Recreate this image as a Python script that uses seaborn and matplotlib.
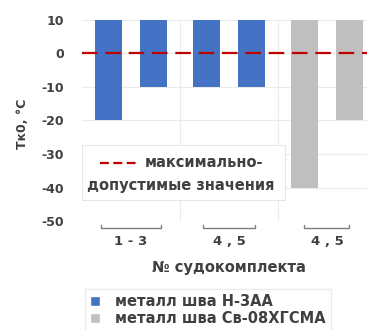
import pandas as pd
import numpy as np
import seaborn as sns
import matplotlib.pyplot as plt
from matplotlib.patches import Patch, Rectangle
import matplotlib.transforms as mtransforms

# --- Dati ---
group_labels = ["1 - 3", "4 , 5", "4 , 5"]
group_idx = [0, 0, 1, 1, 2, 2]
sub_idx = [0, 1, 0, 1, 0, 1]
values = [-20, -10, -10, -10, -40, -20]
material = ["Н-3АА", "Н-3АА", "Н-3АА", "Н-3АА", "Св-08ХГСМА", "Св-08ХГСМА"]
legend_labels = ["металл шва Н-3АА", "металл шва Св-08ХГСМА"]
limit_value = 0
y_top = 10

colors = {"Н-3АА": "#4472C4", "Св-08ХГСМА": "#BFBFBF"}
txt = "#404040"

sns.set_style("white")
plt.rcParams['font.family'] = ['DejaVu Sans']
plt.rcParams['font.weight'] = 'bold'
plt.rcParams['axes.unicode_minus'] = False

df = pd.DataFrame({"group": group_idx, "sub": sub_idx, "value": values, "material": material})
df["height"] = df["value"] - y_top

fig = plt.figure(figsize=(3.67, 3.30), dpi=100)
ax = fig.add_axes([0.2234, 0.3303, 0.801, 0.6091])

sns.barplot(data=df, x="group", y="height", hue="sub", dodge=True, width=0.92, gap=0.39,
            bottom=y_top, errorbar=None, legend=False, ax=ax, linewidth=0)

# ricolora le barre per materiale
for h, cont in enumerate(ax.containers):
    sub_df = df[df["sub"] == h].sort_values("group")
    for bar, mat in zip(cont.patches, sub_df["material"]):
        bar.set_facecolor(colors[mat])
        bar.set_edgecolor(colors[mat])

ax.set_ylim(-50, 10)
ax.set_xlim(-0.5, 2.5)
ax.set_yticks(np.arange(-50, 11, 10))
ax.set_xticks([])
ax.set_xlabel("")
ax.set_ylabel("")
ax.tick_params(axis='y', labelsize=9, colors=txt, length=0, pad=13)
for s in ax.spines.values():
    s.set_visible(False)

for yv in np.arange(-50, 11, 10):
    ax.axhline(yv, color="#EBEBEB", lw=0.8, zorder=0)
for xv in [0.5, 1.5]:
    ax.axvline(xv, color="#EBEBEB", lw=0.8, zorder=0)

ax.axhline(limit_value, color="#C00000", lw=1.6, ls=(0, (7, 3.5)), zorder=3)

# etichette gruppi con parentesi
trans = mtransforms.blended_transform_factory(ax.transData, ax.transAxes)
half_w = [0.31, 0.27, 0.23]
for i, lab in enumerate(group_labels):
    x0, x1 = i - half_w[i], i + half_w[i]
    ax.plot([x0, x0, x1, x1], [-0.022, -0.037, -0.037, -0.022], color="#7F7F7F", lw=1,
            transform=trans, clip_on=False)
    ax.text(i, -0.068, lab, transform=trans, ha="center", va="top", fontsize=9.5, color=txt)

ax.text(0.5, -0.195, "№ судокомплекта", transform=ax.transAxes, ha="center", va="top",
        fontsize=10.5, color=txt)
fig.text(0.06, 0.624, "Tк0, °C", rotation=90, ha="center", va="center", fontsize=9, color=txt)

# legenda interna (linea limite)
ax.add_patch(Rectangle((0.0, 0.104), 0.69, 0.274, transform=ax.transAxes, facecolor="white",
                       edgecolor="#E6E6E6", lw=0.8, zorder=4))
ax.plot([0.062, 0.19], [0.29, 0.29], transform=ax.transAxes, color="#C00000", lw=1.6,
        ls=(0, (4, 2)), zorder=5)
ax.text(0.215, 0.29, "максимально-", transform=ax.transAxes, ha="left", va="center",
        fontsize=10.5, color=txt, zorder=5)
ax.text(0.018, 0.175, "допустимые значения", transform=ax.transAxes, ha="left", va="center",
        fontsize=10.5, color=txt, zorder=5)

# legenda materiali
handles = [Patch(facecolor=colors["Н-3АА"]), Patch(facecolor=colors["Св-08ХГСМА"])]
leg = fig.legend(handles, legend_labels, loc="upper left", bbox_to_anchor=(0.232, 0.125),
                 frameon=True, fontsize=10.5, handlelength=0.7, handleheight=0.7,
                 handletextpad=1.0, labelspacing=0.15, borderaxespad=0, borderpad=0.35,
                 fancybox=False)
leg.get_frame().set_edgecolor("#E6E6E6")
for t in leg.get_texts():
    t.set_color(txt)

plt.savefig("out.png", dpi=100)
plt.close()
